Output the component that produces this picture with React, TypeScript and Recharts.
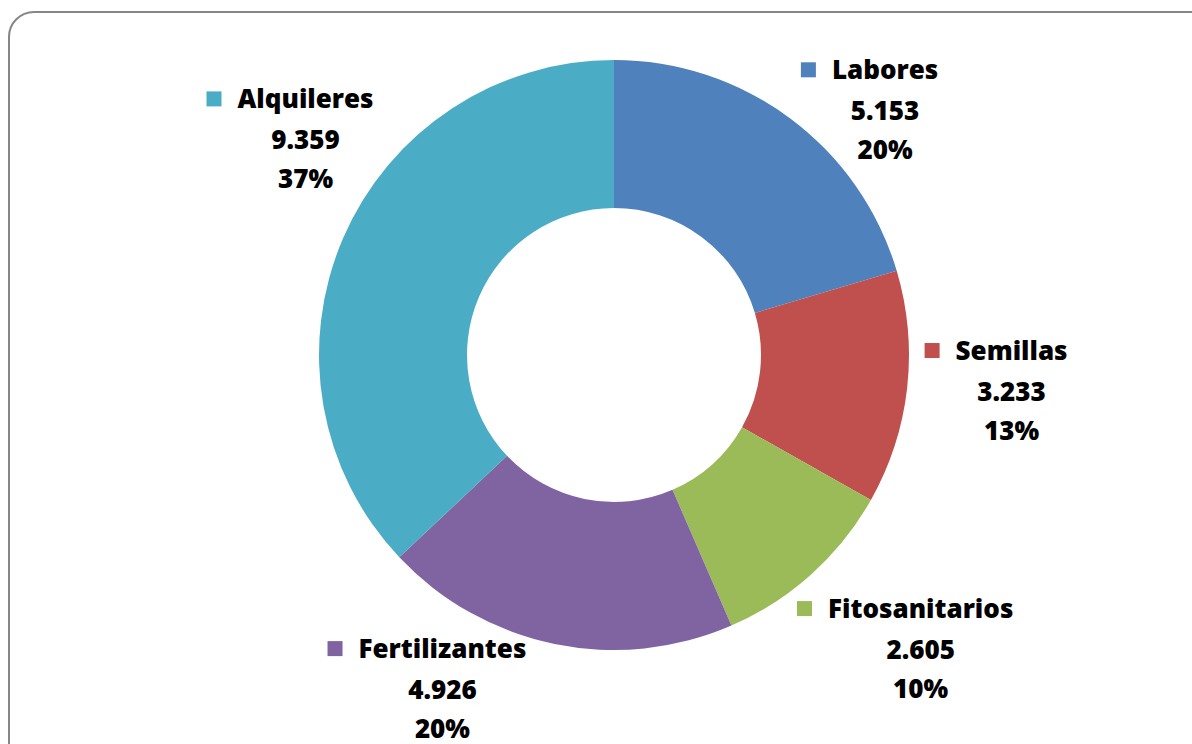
import React from "react";
import { PieChart, Pie, Cell } from "recharts";

const CATEGORIES = ["Labores", "Semillas", "Fitosanitarios", "Fertilizantes", "Alquileres"];
const VALUES = [5153, 3233, 2605, 4926, 9359];
const VALUE_LABELS = ["5.153", "3.233", "2.605", "4.926", "9.359"];
const PERCENT_LABELS = ["20%", "13%", "10%", "20%", "37%"];

const COLORS = ["#4F81BD", "#C0504D", "#9BBB59", "#8064A2", "#4BACC6"];

// label nudges away from the plain radial spot (Excel placed them by hand)
const LABEL_RADIUS_PAD = 90;
const LABEL_NUDGE = [
  [41, 33],
  [15, -38],
  [49, -23],
  [-94, -74],
  [45, -94]
];

const FONT = "'Open Sans', sans-serif";
const FONT_SIZE = 26;
const FONT_WEIGHT = 800;
const RADIAN = Math.PI / 180;

const data = CATEGORIES.map((name, i) => ({ name, value: VALUES[i] }));

let ctx: CanvasRenderingContext2D | null = null;
function textWidth(s: string) {
  if (!ctx) ctx = document.createElement("canvas").getContext("2d");
  if (!ctx) return s.length * 14;
  ctx.font = `${FONT_WEIGHT} ${FONT_SIZE}px ${FONT}`;
  return ctx.measureText(s).width;
}

function renderLabel(props: any) {
  const { cx, cy, midAngle, outerRadius, index } = props;
  const r = outerRadius + LABEL_RADIUS_PAD;
  const x = cx + r * Math.cos(-midAngle * RADIAN) + LABEL_NUDGE[index][0];
  const y = cy + r * Math.sin(-midAngle * RADIAN) + LABEL_NUDGE[index][1];
  const name = CATEGORIES[index];
  const half = textWidth(name) / 2;
  const txt = {
    textAnchor: "middle" as const,
    fontFamily: FONT,
    fontWeight: FONT_WEIGHT,
    fontSize: FONT_SIZE,
    fill: "#000"
  };
  return (
    <g key={`lbl-${index}`}>
      <rect x={x - half - 31} y={y - 17} width={15} height={15} fill={COLORS[index]} />
      <text x={x} y={y} {...txt}>
        {name}
      </text>
      <text x={x} y={y + 41} {...txt}>
        {VALUE_LABELS[index]}
      </text>
      <text x={x} y={y + 80} {...txt}>
        {PERCENT_LABELS[index]}
      </text>
    </g>
  );
}

export default function App() {
  return (
    <div
      style={{
        position: "absolute",
        left: 0,
        top: 0,
        width: 1192,
        height: 744,
        overflow: "hidden",
        background: "#fff"
      }}
    >
      <div
        style={{
          position: "absolute",
          left: 8,
          top: 11,
          width: 1220,
          height: 800,
          border: "2px solid #868686",
          borderRadius: 26,
          boxSizing: "border-box"
        }}
      />
      <PieChart
        width={1192}
        height={744}
        margin={{ top: 0, right: 0, bottom: 0, left: 0 }}
        style={{ position: "absolute", left: 0, top: 0 }}
      >
        <Pie
          data={data}
          dataKey="value"
          nameKey="name"
          cx={614}
          cy={355}
          innerRadius={147}
          outerRadius={295}
          startAngle={90}
          endAngle={-270}
          stroke="none"
          labelLine={false}
          label={renderLabel}
          isAnimationActive={false}
        >
          {data.map((d, i) => (
            <Cell key={d.name} fill={COLORS[i]} />
          ))}
        </Pie>
      </PieChart>
    </div>
  );
}
